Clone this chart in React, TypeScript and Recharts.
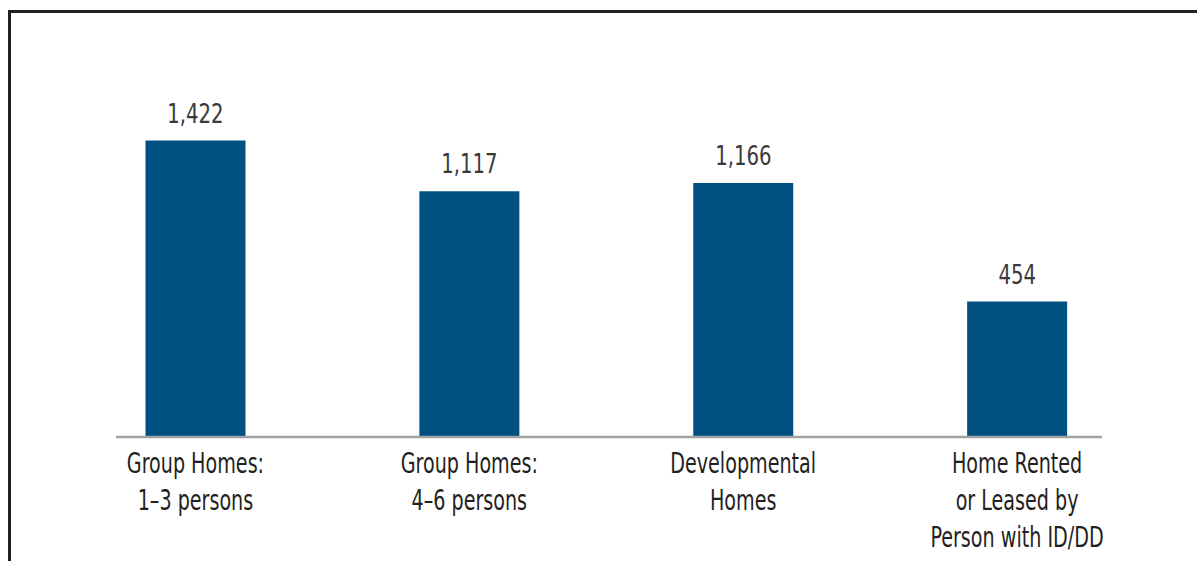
import { BarChart, Bar, XAxis, YAxis, LabelList } from 'recharts';

const categories = [
  'Group Homes: 1–3 persons',
  'Group Homes: 4–6 persons',
  'Developmental Homes',
  'Home Rented or Leased by Person with ID/DD',
];
const labelLines = [
  ['Group Homes:', '1–3 persons'],
  ['Group Homes:', '4–6 persons'],
  ['Developmental', 'Homes'],
  ['Home Rented', 'or Leased by', 'Person with ID/DD'],
];
const values = [1422, 1117, 1166, 454];
const xTicks = [0, 1, 2, 3];

const Y_MIN = -360;
const Y_MAX = 1900;

// condensed look: regular font squeezed horizontally
const FONT = '"DejaVu Sans Condensed", "DejaVu Sans", sans-serif';

const data = categories.map((name, i) => ({ idx: i, name, value: values[i] }));

const CategoryTick = ({ x, y, payload }: any) => {
  const lines = labelLines[payload.value] || [];
  return (
    <text
      x={0}
      y={0}
      transform={`translate(${x} ${y}) scale(0.76 1)`}
      textAnchor="middle"
      fontFamily={FONT}
      fontSize={28}
      fill="#231f20"
    >
      {lines.map((line, i) => (
        <tspan key={i} x={0} dy={i === 0 ? 36 : 37}>{line}</tspan>
      ))}
    </text>
  );
};

const ValueLabel = ({ x, y, width, value }: any) => (
  <text
    x={0}
    y={0}
    transform={`translate(${x + width / 2} ${y - 18}) scale(0.81 1)`}
    textAnchor="middle"
    fontFamily={FONT}
    fontSize={27}
    fill="#3a3a3a"
  >
    {Number(value).toLocaleString('en-US')}
  </text>
);

export default function App() {
  return (
    <>
      <style>{'body{margin:0;overflow:hidden;}'}</style>
      <div
        style={{
          position: 'absolute',
          left: 8,
          top: 10,
          width: 1189,
          height: 551,
          borderTop: '3px solid #231f20',
          borderLeft: '3px solid #231f20',
          boxSizing: 'border-box',
          background: '#fff',
        }}
      >
        <BarChart
          width={1186}
          height={548}
          data={data}
          margin={{ top: 48, right: 95, bottom: 14, left: 105 }}
        >
          <XAxis
            type="number"
            dataKey="idx"
            domain={[-0.29, 3.31]}
            ticks={xTicks}
            interval={0}
            allowDataOverflow
            tick={<CategoryTick />}
            tickLine={false}
            tickSize={0}
            tickMargin={0}
            height={110}
            axisLine={{ stroke: '#a3a3a3', strokeWidth: 2.5 }}
          />
          <YAxis hide domain={[Y_MIN, Y_MAX]} allowDataOverflow />
          <Bar
            dataKey={(d: any) => [Y_MIN, d.value]}
            fill="#005082"
            barSize={100}
            isAnimationActive={false}
          >
            <LabelList dataKey="value" content={<ValueLabel />} />
          </Bar>
        </BarChart>
      </div>
    </>
  );
}
